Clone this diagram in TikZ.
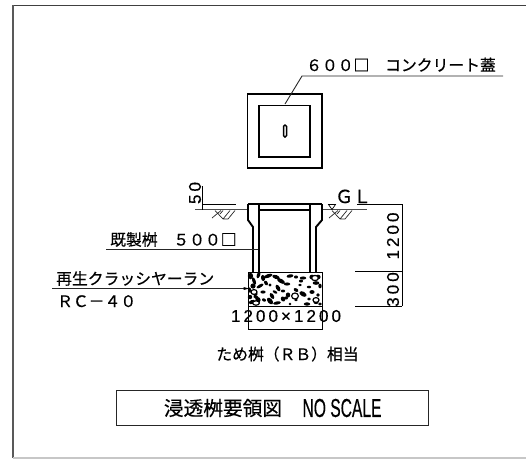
\documentclass[tikz,border=0pt]{standalone}
\usepackage{fontspec}
\usepackage{graphicx}
\newfontfamily\cjk[FakeBold=0.5]{Noto Sans CJK JP}
\newfontfamily\dimfont[LetterSpace=18,FakeBold=0.4]{Liberation Sans}
\newfontfamily\latinfont[FakeBold=0.5]{Liberation Sans}
\tikzset{
  heavy/.style={line width=1.9pt,black,line join=miter},
  thin line/.style={line width=0.9pt,black},
  leader/.style={line width=0.9pt,black!85},
  jp/.style={inner sep=0pt,font=\cjk\fontsize{15.8}{16}\selectfont,text=black},
  dimtext/.style={inner sep=0pt,font=\dimfont\fontsize{17}{17}\selectfont,text=black},
}
\begin{document}
\begin{tikzpicture}[x=1pt,y=-1pt]
\useasboundingbox (0,0) rectangle (526,459);
% sheet frame
\draw[line width=1.2pt,black!75] (526,5.5) -- (13,5.5);
\draw[line width=1.6pt,black!65] (13,5) -- (13,458);
\draw[line width=1.5pt,black!22] (13,458) -- (526,458);
% top view
\draw[heavy] (247.5,94) rectangle (322,168);
\draw[heavy] (259,105.5) rectangle (310,157);
\draw[line width=1.5pt,rounded corners=1.4pt] (283.5,125) rectangle (286.5,137);
\coordinate (lidknee) at (302,76);
\coordinate (lidend) at (503,76);
\coordinate (lidtip) at (285,104);
\draw[leader] (lidtip) -- (lidknee) -- (lidend);
\node[jp,anchor=base west] (lid) at (306,71) {６００□　コンクリート蓋};
% section: ground lines
\draw[thin line,black!70] (195,209.5) -- (248,209.5);
\draw[thin line,black!70] (322,209.5) -- (367,209.5);
\draw[thin line] (202,186) -- (202,209.5);
\draw[thin line] (202,204) -- (236,204);
\foreach \ox in {212,329}{
  \draw[line width=0.7pt,black!85,shift={(\ox,210)}]
    (0,8) -- (9,0.5) (3,0.5) -- (11,9) -- (16,9) -- (23,0.5) (8,4) -- (11,0.5) (11,9) -- (18,0.5);
}
\draw[line width=0.7pt] (328.5,204.5) -- (335.5,204.5) -- (332,209.5) -- cycle;
% section: pit body
\draw[heavy] (248,204) -- (322,204);
\draw[heavy] (248,204) -- (248,220) -- (253,227) -- (253,272);
\draw[heavy] (322,204) -- (322,220) -- (316,227) -- (316,272);
\draw[heavy] (259,204) -- (259,272);
\draw[heavy] (310,204) -- (310,272);
\draw[heavy] (259,209.8) -- (310,209.8);
% gravel bed
\draw[line width=1pt] (248,272.5) rectangle (322,306);
\foreach \x/\y/\a/\b/\r in {
 250.5/276/2/2.5/0, 254/281/1.3/3/20, 258.5/275/1.3/2.6/-20, 253/286/2/2/0, 263/278/1.5/2.4/10,
 268/276/3.5/1.4/20, 276/277/3/1.5/-20, 281/281/3.4/1.6/-30, 290/276/2.6/1.3/10, 296/277/1.6/1.2/0,
 303/278/2.5/1.2/0, 312/277/2/1.8/0, 318/277/2/1.8/0, 316/283/2.6/1.4/0, 320/286/1.3/1.8/0,
 260/286/1.2/3/-60, 270/285/1.3/1.2/0, 278/288/1.5/2.8/30, 287/284/2.5/1.2/0, 300/285/1.5/1/0,
 309/287/1.7/1/0, 254/293/3/1.5/-20, 250/297/1.7/1.7/0, 263/292/2/1.2/0, 272/296/1.4/2.5/30,
 283/291/1.7/1.1/0, 288/295/1.7/2/0, 296/290/2/1.3/-30, 303/294/3/1.8/-30, 312/292/2/1.5/0,
 318/295/1.5/1.5/0, 252/302/2.5/1.5/20, 258/300/2/2.2/0, 264/300/1.6/1.2/-30, 270/301/1.8/3/40,
 277/303/3/1.2/10, 286/298/1.6/1.2/0, 296/300/1.5/1/0, 307/304/2.5/1.3/0, 316/302/2/1.6/0,
 320/304/1.5/1.2/0, 290/304/1/1/0, 266/283/1.3/2/30, 256/297/2.2/1.4/-30, 275/292/2/1/-30,
 309/299/1.5/1.2/0, 283/299/1.6/2/30, 301/281/1.6/1.2/0, 249.5/290/1.2/2/0}{
  \fill[black,rotate around={\r:(\x,\y)}] (\x,\y) ellipse [x radius=1.3*\a pt,y radius=1.3*\b pt];
}
\foreach \x/\y/\a/\b in {315/278/3.4/2.6, 295/296/3.4/3, 256/303/3.4/2.2, 254/292/3/2.4, 316/300/3/2.4}{
  \draw[line width=1.2pt,fill=white] (\x,\y) ellipse [x radius=\a pt,y radius=\b pt];
}
% dimensions, right side
\coordinate (gltop) at (402,204);
\coordinate (glbot) at (402,306);
\draw[thin line] (357,204) -- (gltop);
\draw[thin line] (gltop) -- (glbot);
\draw[thin line] (355,271.5) -- (402,271.5);
\draw[thin line] (355,306) -- (402,306);
\node[inner sep=0pt,anchor=base west,font=\cjk\fontsize{18}{18}\selectfont] (gl) at (335,203) {ＧＬ};
\node[dimtext,rotate=90] (d1200) at (393,236) {1200};
\node[dimtext,rotate=90] (d300) at (393,289.5) {300};
\node[dimtext,rotate=90] (d50) at (195,193) {50};
% bottom dimension
\draw[thin line] (248,306) -- (248,329) -- (322,329) -- (322,306);
\node[dimtext] (dwidth) at (286,316) {1200×1200};
% left labels
\coordinate (pitL) at (106,249);
\coordinate (pitR) at (258,249);
\draw[leader] (pitL) -- (pitR);
\node[jp,anchor=base west] (pit) at (110,245.5) {既製桝　５００□};
\coordinate (grvL) at (52,288.5);
\coordinate (grvR) at (248,288.5);
\draw[leader] (grvL) -- (grvR);
\draw[line width=0.6pt,fill=black] (248,288.5) -- (244,287.5) -- (244,289.5) -- cycle;
\node[jp,anchor=base west] (grv) at (56,284.5) {再生クラッシヤーラン};
\node[jp,anchor=base west] (rc) at (57,307) {ＲＣ－４０};
% bottom captions
\node[jp] (cap) at (287.5,354) {ため桝（ＲＢ）相当};
\draw[line width=1pt,black!85] (116,390) rectangle (428,425);
\node[inner sep=0pt,font=\cjk\fontsize{19.7}{20}\selectfont,text=black] (title) at (223,408) {浸透桝要領図};
\node[inner sep=0pt,font=\latinfont\fontsize{26}{26}\selectfont,text=black] (ns) at (342,408) {\scalebox{.6}[1]{NO SCALE}};
\end{tikzpicture}
\end{document}
